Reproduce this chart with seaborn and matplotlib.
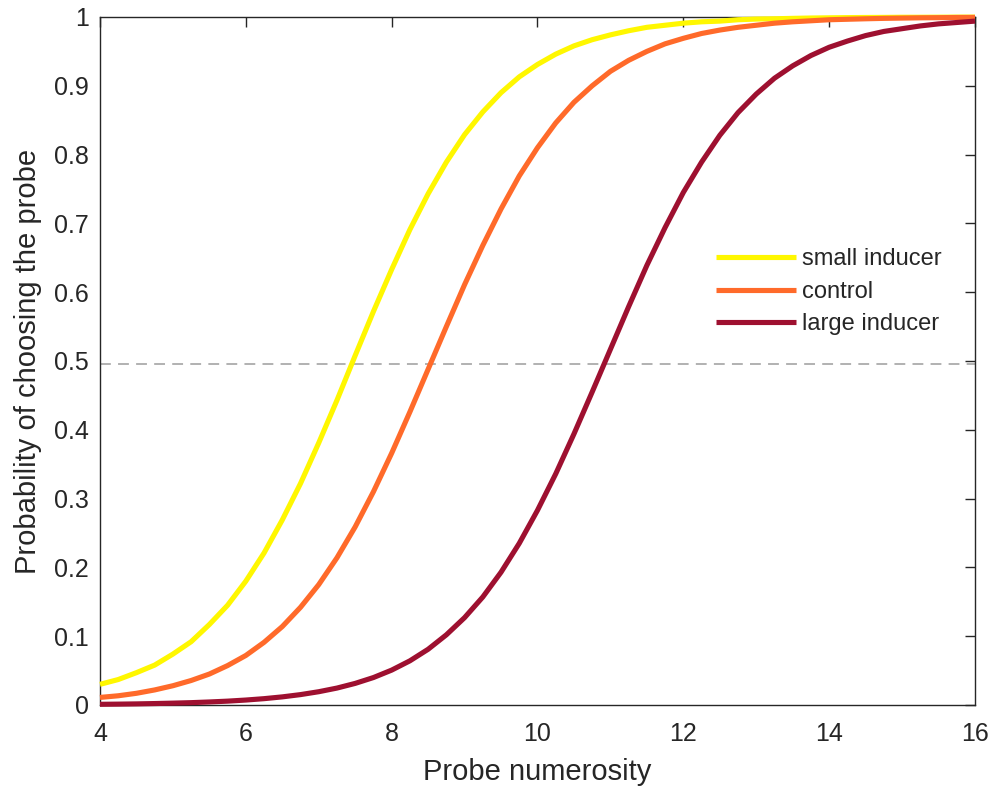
import numpy as np
import pandas as pd
import matplotlib
matplotlib.use("Agg")
import matplotlib.pyplot as plt
import seaborn as sns

numerosity = [4.0, 4.25, 4.5, 4.75, 5.0, 5.25, 5.5, 5.75, 6.0, 6.25, 6.5, 6.75,
              7.0, 7.25, 7.5, 7.75, 8.0, 8.25, 8.5, 8.75, 9.0, 9.25, 9.5, 9.75,
              10.0, 10.25, 10.5, 10.75, 11.0, 11.25, 11.5, 11.75, 12.0, 12.25, 12.5, 12.75,
              13.0, 13.25, 13.5, 13.75, 14.0, 14.25, 14.5, 14.75, 15.0, 15.25, 15.5, 15.75,
              16.0]
small_inducer = [0.030, 0.037, 0.047, 0.058, 0.074, 0.092, 0.117, 0.145, 0.180, 0.221,
                 0.269, 0.322, 0.381, 0.443, 0.508, 0.572, 0.633, 0.691, 0.743, 0.789,
                 0.829, 0.862, 0.890, 0.913, 0.931, 0.946, 0.958, 0.967, 0.974, 0.980,
                 0.985, 0.988, 0.991, 0.993, 0.994, 0.996, 0.997, 0.9974, 0.998, 0.9985,
                 0.9988, 0.9991, 0.9993, 0.9994, 0.9996, 0.9996, 0.9997, 0.9998, 0.9998]
control = [0.011, 0.0134, 0.017, 0.0219, 0.028, 0.0356, 0.045, 0.0573, 0.072, 0.0911,
           0.114, 0.142, 0.175, 0.214, 0.259, 0.310, 0.366, 0.426, 0.488, 0.550,
           0.611, 0.668, 0.721, 0.769, 0.810, 0.846, 0.876, 0.900, 0.921, 0.937,
           0.950, 0.961, 0.969, 0.976, 0.981, 0.985, 0.988, 0.991, 0.993, 0.9945,
           0.996, 0.9967, 0.9974, 0.998, 0.9984, 0.9988, 0.999, 0.9993, 0.9994]
large_inducer = [0.001, 0.00125, 0.0016, 0.0021, 0.0027, 0.0034, 0.0044, 0.0056, 0.0072,
                 0.0092, 0.0118, 0.0151, 0.0193, 0.0246, 0.0314, 0.0399, 0.0507, 0.0642,
                 0.081, 0.102, 0.127, 0.157, 0.193, 0.235, 0.283, 0.336, 0.394, 0.455,
                 0.517, 0.579, 0.639, 0.694, 0.745, 0.789, 0.828, 0.861, 0.888, 0.911,
                 0.929, 0.944, 0.956, 0.965, 0.973, 0.979, 0.983, 0.987, 0.990, 0.992,
                 0.994]
series_names = ["small inducer", "control", "large inducer"]
series_colors = ["#FFF700", "#FF6A2A", "#9E1030"]
chance_level = 0.495
x_ticks = [4, 6, 8, 10, 12, 14, 16]
y_ticks = [0, 0.1, 0.2, 0.3, 0.4, 0.5, 0.6, 0.7, 0.8, 0.9, 1]
y_tick_labels = ["0", "0.1", "0.2", "0.3", "0.4", "0.5", "0.6", "0.7", "0.8", "0.9", "1"]

n = len(numerosity)
df = pd.DataFrame({
    "numerosity": numerosity * 3,
    "prob": small_inducer + control + large_inducer,
    "condition": [series_names[0]] * n + [series_names[1]] * n + [series_names[2]] * n,
})

sns.set_style("white")
plt.rcParams["font.family"] = ["Liberation Sans", "DejaVu Sans"]

fig = plt.figure(figsize=(9.95, 7.94), dpi=100)
ax = fig.add_axes([0.1005, 0.1121, 0.8794, 0.8665])

ax.axhline(chance_level, color="#ABABAB", lw=1.3, ls=(0, (6, 4)), zorder=1)
sns.lineplot(data=df, x="numerosity", y="prob", hue="condition",
             palette=dict(zip(series_names, series_colors)), hue_order=series_names,
             lw=3.7, ax=ax, zorder=3)
for ln in ax.lines[1:]:
    ln.set_clip_on(False)
    ln.set_solid_capstyle("butt")

ax.set_xlim(4, 16)
ax.set_ylim(0, 1)
ax.set_xticks(x_ticks)
ax.set_xticklabels([str(t) for t in x_ticks])
ax.set_yticks(y_ticks)
ax.set_yticklabels(y_tick_labels)
ax.tick_params(direction="in", length=7, width=1, colors="#262626", labelsize=18,
               top=True, right=True)
ax.tick_params(axis="y", pad=8)
ax.tick_params(axis="x", pad=12)
for s in ax.spines.values():
    s.set_color("#262626")
    s.set_linewidth(1.0)
    s.set_visible(True)

ax.set_xlabel("Probe numerosity", fontsize=21, color="#262626", labelpad=9)
ax.set_ylabel("Probability of choosing the probe", fontsize=21, color="#262626", labelpad=9)

leg = ax.legend(loc="center left", bbox_to_anchor=(0.704, 0.6006), frameon=False,
                fontsize=17, handlelength=3.4, handletextpad=0.25, labelspacing=0.45,
                borderaxespad=0, borderpad=0)
for line in leg.get_lines():
    line.set_linewidth(3.7)

fig.savefig("out.png", dpi=100)
